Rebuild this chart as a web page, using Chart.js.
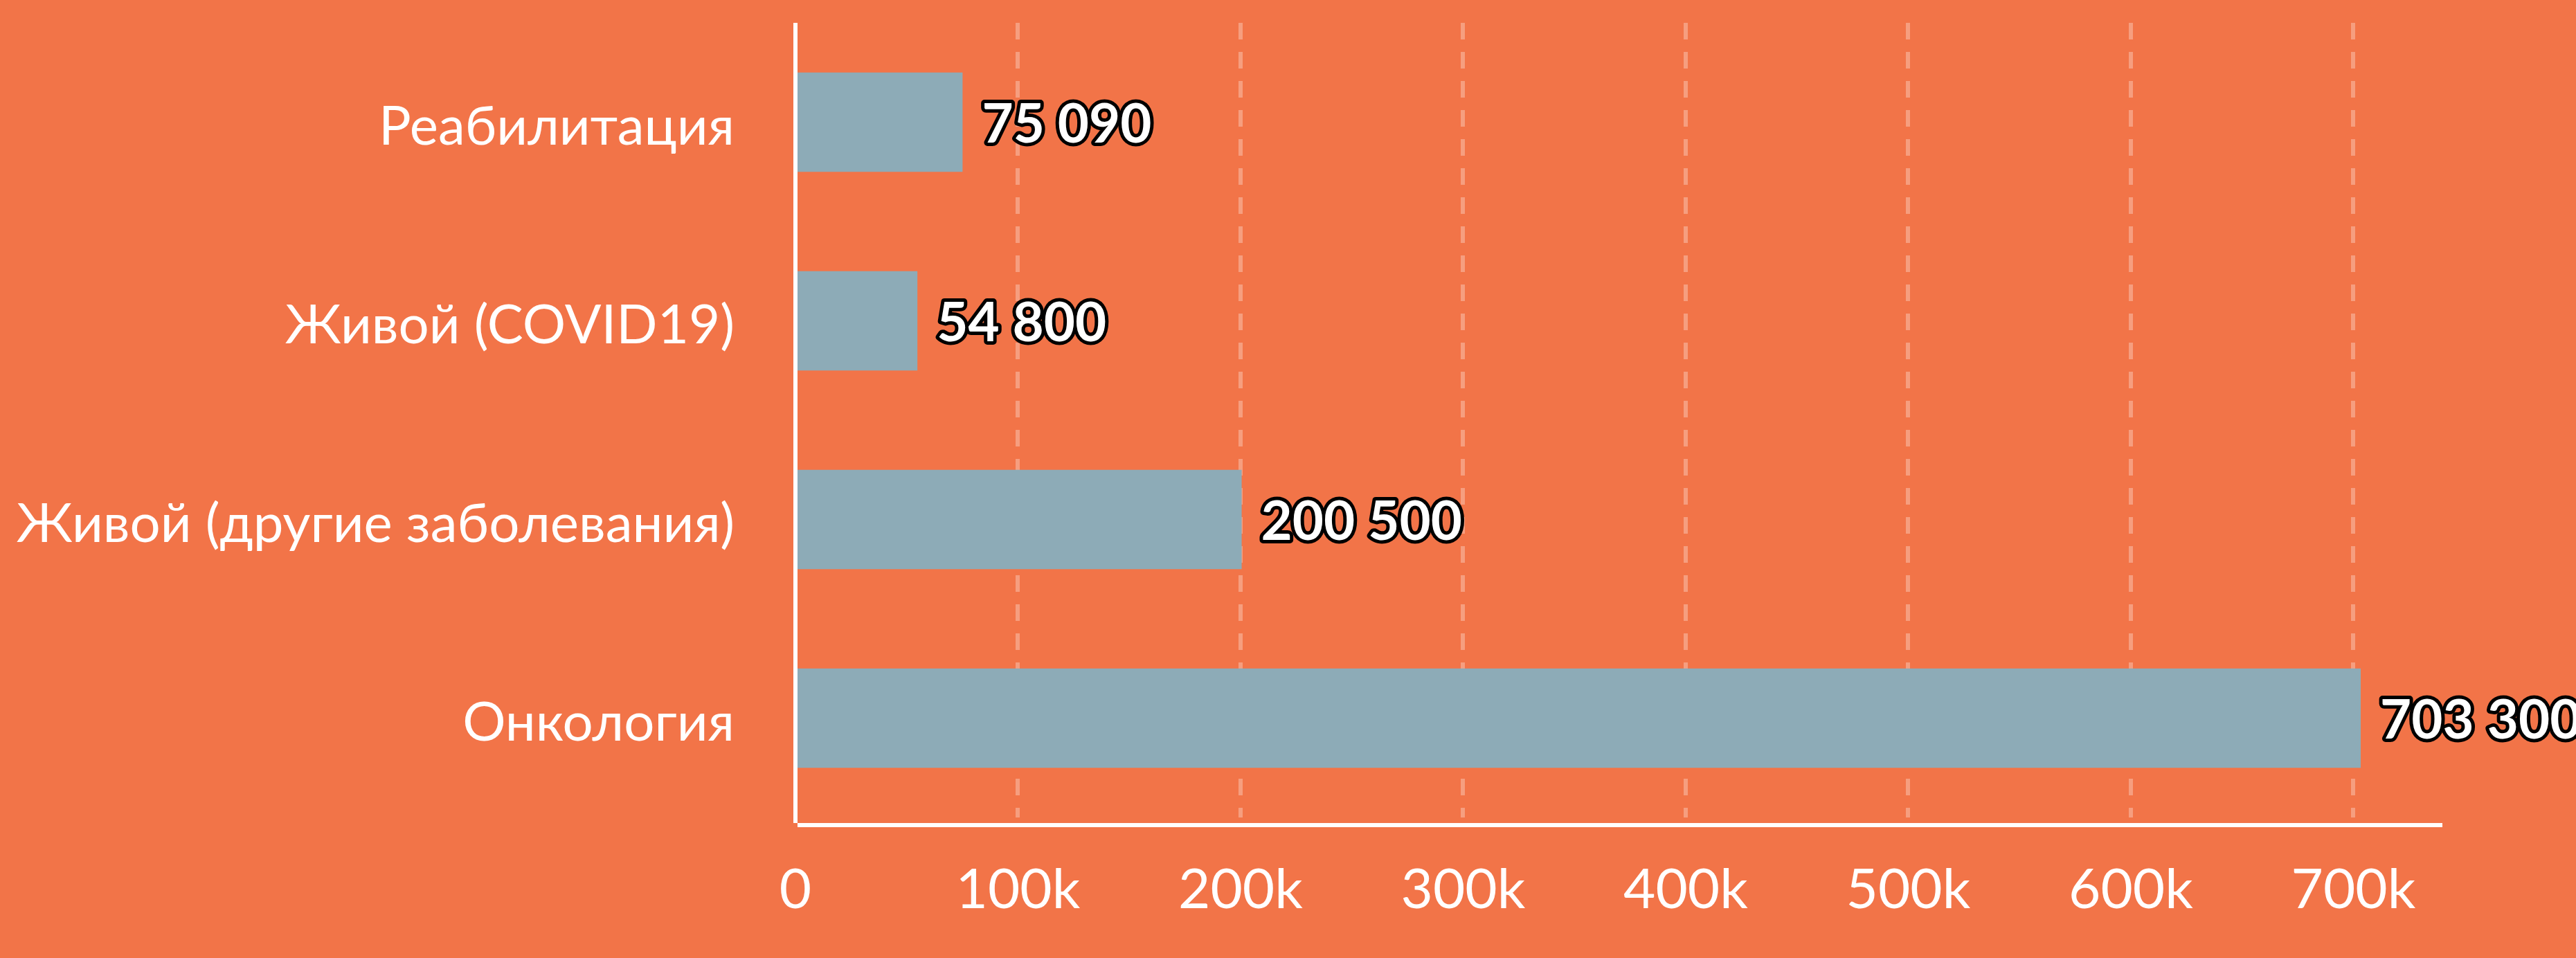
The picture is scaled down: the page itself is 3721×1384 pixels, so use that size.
<!DOCTYPE html>
<html>
<head>
<meta charset="utf-8">
<script src="https://cdn.jsdelivr.net/npm/chart.js@4/dist/chart.umd.min.js"></script>
<style>
  html, body { margin: 0; padding: 0; background: #f27448; }
  #wrap { width: 3721px; height: 1384px; position: relative; }
</style>
</head>
<body>
<div id="wrap"><canvas id="chart"></canvas></div>
<script>
/* horizontal bar chart, values labelled with outlined text */

const categories = ['Реабилитация', 'Живой (COVID19)', 'Живой (другие заболевания)', 'Онкология'];
const amounts = [75090, 54800, 200500, 703300];
const tickValues = [0, 100000, 200000, 300000, 400000, 500000, 600000, 700000];

const BG = '#f27448';
const BAR = '#8dabb7';
const FONT = "Lato, 'Open Sans', sans-serif";

function formatAmount(v) {
  return String(v).replace(/\B(?=(\d{3})+(?!\d))/g, ' ');
}

// value labels: white text with a black outline, right of each bar
const valueLabels = {
  id: 'valueLabels',
  afterDatasetsDraw(chart) {
    const ctx = chart.ctx;
    const meta = chart.getDatasetMeta(0);
    ctx.save();
    ctx.font = 'bold 78px ' + FONT;
    ctx.textAlign = 'left';
    ctx.textBaseline = 'middle';
    ctx.lineJoin = 'round';
    ctx.lineWidth = 10;
    meta.data.forEach(function(bar, i) {
      const text = formatAmount(chart.data.datasets[0].data[i]);
      ctx.strokeStyle = '#000';
      ctx.strokeText(text, bar.x + 28, bar.y + 4);
      ctx.fillStyle = '#fff';
      ctx.fillText(text, bar.x + 28, bar.y + 4);
    });
    ctx.restore();
  },
};

// axis lines drawn a little outside the plot area, like the original
const axisLines = {
  id: 'axisLines',
  afterDatasetsDraw(chart) {
    const a = chart.chartArea;
    const ctx = chart.ctx;
    ctx.save();
    ctx.fillStyle = '#fff';
    ctx.fillRect(a.left - 3, a.top, 6, a.bottom - a.top + 8);
    ctx.fillRect(a.left + 3, a.bottom + 8, a.right - a.left - 3, 6);
    ctx.restore();
  },
};

const chart = new Chart(document.getElementById('chart'), {
  type: 'bar',
  data: {
    labels: categories,
    datasets: [{
      data: amounts,
      backgroundColor: BAR,
      borderWidth: 0,
      categoryPercentage: 0.5,
      barPercentage: 1.0,
    }],
  },
  options: {
    indexAxis: 'y',
    responsive: true,
    maintainAspectRatio: false,
    animation: false,
    layout: { padding: { top: 33, right: 193, left: 0, bottom: 0 } },
    plugins: {
      legend: { display: false },
      tooltip: { enabled: false },
    },
    scales: {
      x: {
        type: 'linear',
        min: 0,
        max: 740000,
        afterBuildTicks(scale) {
          scale.ticks = tickValues.map(function(v) { return { value: v }; });
        },
        afterFit(scale) {
          scale.height = 203;
          scale.paddingLeft = 0;
          scale.paddingRight = 0;
        },
        grid: {
          color: 'rgba(255,255,255,0.3)',
          lineWidth: 6,
          drawTicks: false,
        },
        border: { display: false, dash: [24, 18] },
        ticks: {
          color: '#fff',
          font: { family: FONT, size: 80 },
          padding: 57,
          maxRotation: 0,
          callback: function(v) { return v === 0 ? '0' : (v / 1000) + 'k'; },
        },
      },
      y: {
        afterFit(scale) {
          scale.width = 1149;
          scale.paddingTop = 0;
          scale.paddingBottom = 0;
        },
        border: { display: false },
        grid: { display: false, drawTicks: false },
        ticks: {
          color: '#fff',
          font: { family: FONT, size: 78 },
          padding: 88,
          labelOffset: 7,
        },
      },
    },
  },
  plugins: [valueLabels, axisLines],
});
</script>
</body>
</html>
